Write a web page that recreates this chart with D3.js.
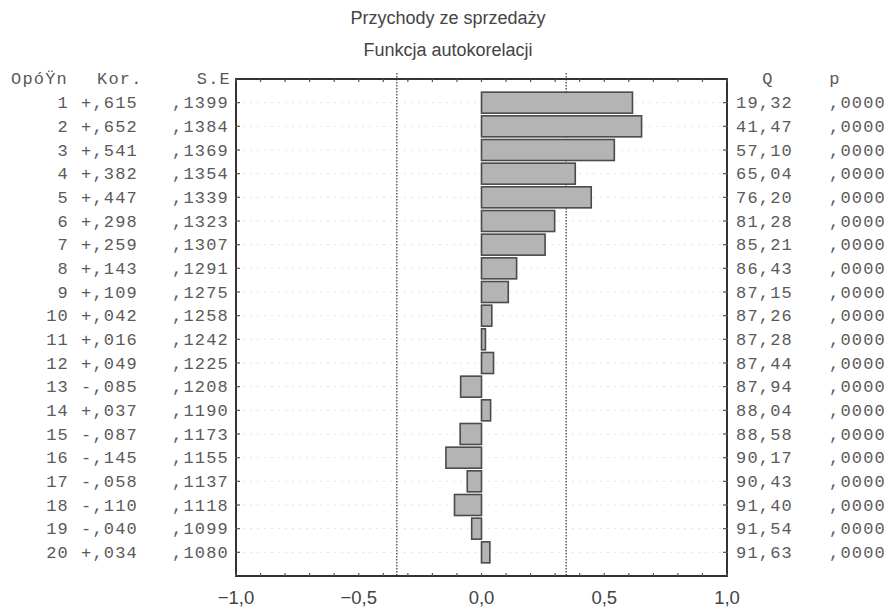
<!DOCTYPE html>
<html><head><meta charset="utf-8">
<script src="https://cdn.jsdelivr.net/npm/d3@7"></script>
<style>body{margin:0;background:#fff}</style>
</head><body>
<svg id="c" width="886" height="609"></svg>
<script>
const lags = d3.range(1, 21);
const kor = [0.615,0.652,0.541,0.382,0.447,0.298,0.259,0.143,0.109,0.042,0.016,0.049,-0.085,0.037,-0.087,-0.145,-0.058,-0.110,-0.040,0.034];
const se = [0.1399,0.1384,0.1369,0.1354,0.1339,0.1323,0.1307,0.1291,0.1275,0.1258,0.1242,0.1225,0.1208,0.1190,0.1173,0.1155,0.1137,0.1118,0.1099,0.1080];
const q = [19.32,41.47,57.10,65.04,76.20,81.28,85.21,86.43,87.15,87.26,87.28,87.44,87.94,88.04,88.58,90.17,90.43,91.40,91.54,91.63];
const p = [0,0,0,0,0,0,0,0,0,0,0,0,0,0,0,0,0,0,0,0];
const xTicks = [-1.0,-0.5,0.0,0.5,1.0];
const confLimit = [-0.345, 0.345];
const titles = ["Przychody ze sprzedaży","Funkcja autokorelacji"];
const headers = {lag:"OpóŸn", kor:"Kor.", se:"S.E", q:"Q", p:"p"};

const svg = d3.select("#c");
const L = 236, R = 727, T = 79, B = 576;
const x = d3.scaleLinear().domain([-1,1]).range([L,R]);
const y = d3.scaleLinear().domain([0,21]).range([T,B]);
const comma = s => s.replace(".", ",");

// titles
svg.selectAll("text.title").data(titles).join("text")
  .attr("x", 448).attr("y", (d,i)=>24+i*32)
  .attr("text-anchor","middle")
  .attr("font-family","'Liberation Sans', Arial, sans-serif")
  .attr("font-size", 18).attr("fill","#444").text(d=>d);

// faint row gridlines
svg.append("g").selectAll("line").data(lags).join("line")
  .attr("x1", L).attr("x2", R).attr("y1", d=>y(d)).attr("y2", d=>y(d))
  .attr("stroke","#e2e2e2").attr("stroke-width",1).attr("stroke-dasharray","2,5");

// confidence limits
svg.append("g").selectAll("line").data(confLimit).join("line")
  .attr("x1", d=>x(d)).attr("x2", d=>x(d)).attr("y1", T-6).attr("y2", B)
  .attr("stroke","#444").attr("stroke-width",1.3).attr("stroke-dasharray","1.5,1.5");

// bars
const bh = 21;
svg.append("g").selectAll("rect").data(lags).join("rect")
  .attr("x", (d,i)=>Math.min(x(0), x(kor[i])))
  .attr("width", (d,i)=>Math.max(3, Math.abs(x(kor[i])-x(0))))
  .attr("y", d=>y(d)-bh/2).attr("height", bh)
  .attr("fill","#b4b4b4").attr("stroke","#4a4a4a").attr("stroke-width",1.6);

// frame
svg.append("rect").attr("x",L).attr("y",T).attr("width",R-L).attr("height",B-T)
  .attr("fill","none").attr("stroke","#333").attr("stroke-width",2);

// axis ticks: bottom/top inward every 0.1
const minor = d3.range(-10, 11).map(v=>v/10);
const ax = svg.append("g").attr("stroke","#555").attr("stroke-width",1.2);
ax.selectAll("line.b").data(minor).join("line").attr("class","b")
  .attr("x1",d=>x(d)).attr("x2",d=>x(d)).attr("y1",B).attr("y2",B-3);
ax.selectAll("line.t").data(minor).join("line").attr("class","t")
  .attr("x1",d=>x(d)).attr("x2",d=>x(d)).attr("y1",T).attr("y2",T+3);
ax.selectAll("line.l").data(lags).join("line").attr("class","l")
  .attr("x1",L-1).attr("x2",L+4).attr("y1",d=>y(d)).attr("y2",d=>y(d));
ax.selectAll("line.r").data(lags).join("line").attr("class","r")
  .attr("x1",R+1).attr("x2",R-4).attr("y1",d=>y(d)).attr("y2",d=>y(d));

// x tick labels
svg.append("g").selectAll("text").data(xTicks).join("text")
  .attr("x", d=>x(d)).attr("y", 604).attr("text-anchor","middle")
  .attr("font-family","'Liberation Sans', Arial, sans-serif")
  .attr("font-size",18.5).attr("fill","#444")
  .text(d=>comma(d3.format(".1f")(d)));

// table text
const mono = {"font-family":"'Liberation Mono', 'Courier New', monospace","font-size":17,"fill":"#5a5a5a","letter-spacing":"1.2px"};
function col(data, xpos, anchor, fmt){
  const g = svg.append("g");
  Object.entries(mono).forEach(([k,v])=>g.attr(k,v));
  g.selectAll("text").data(data).join("text")
    .attr("x", xpos).attr("y",(d,i)=>y(lags[i])+5.5).attr("text-anchor",anchor)
    .text(fmt);
  return g;
}
col(lags, 69, "end", d=>d);
col(kor, 138, "end", d=>(d<0?"-":"+")+","+d3.format("03d")(Math.round(Math.abs(d)*1000)));
col(se, 229, "end", d=>","+d3.format("04d")(Math.round(d*10000)));
col(q, 793, "end", d=>comma(d3.format(".2f")(d)));
col(p, 886, "end", d=>","+d3.format("04d")(Math.round(d*10000)));

const hg = svg.append("g");
Object.entries(mono).forEach(([k,v])=>hg.attr(k,v));
const hy = y(0)+5;
hg.append("text").attr("x",11).attr("y",hy).text(headers.lag);
hg.append("text").attr("x",97).attr("y",hy).text(headers.kor);
hg.append("text").attr("x",231).attr("y",hy).attr("text-anchor","end").text(headers.se);
hg.append("text").attr("x",768).attr("y",hy).attr("text-anchor","middle").text(headers.q);
hg.append("text").attr("x",835).attr("y",hy).attr("text-anchor","middle").text(headers.p);
</script>
</body></html>
